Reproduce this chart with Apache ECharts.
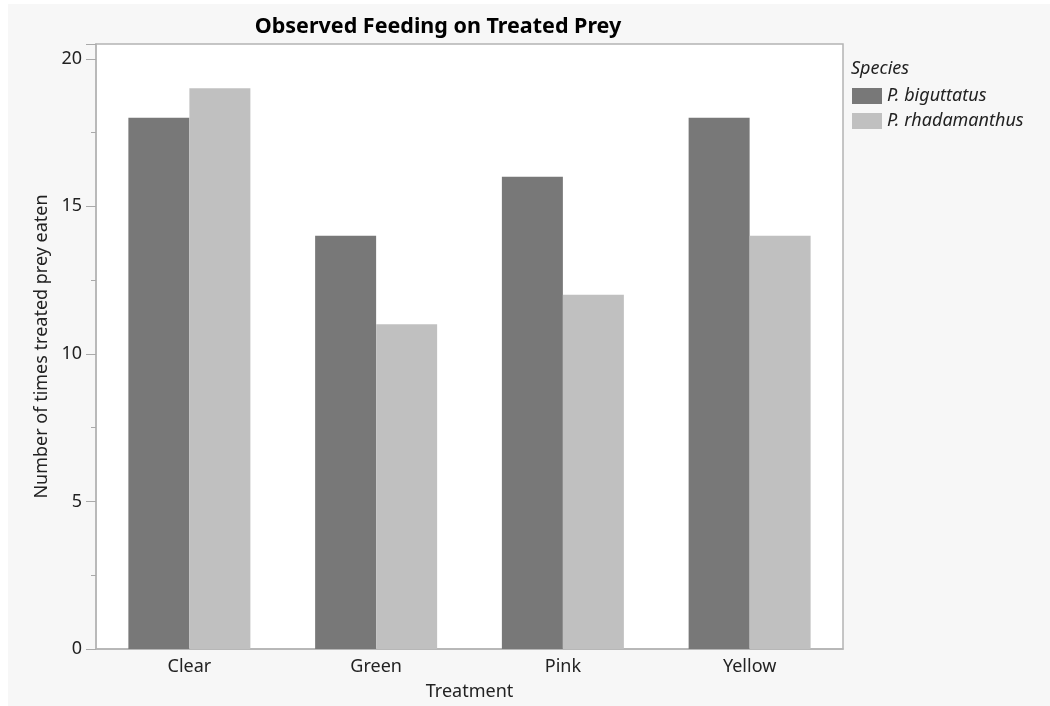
<!DOCTYPE html>
<html><head><meta charset="utf-8">
<script src="https://cdn.jsdelivr.net/npm/echarts@6/dist/echarts.min.js"></script>
<style>
html,body{margin:0;padding:0;background:#fff;}
#wrap{position:absolute;left:8px;top:4px;width:1042px;height:702px;background:#f7f7f7;}
#c{position:absolute;left:-8px;top:-4px;width:1050px;height:706px;}
</style></head>
<body><div id="wrap"><div id="c"></div></div>
<script>
const categories = ['Clear', 'Green', 'Pink', 'Yellow'];
const biguttatus = [18, 14, 16, 18];
const rhadamanthus = [19, 11, 12, 14];
const seriesNames = ['P. biguttatus', 'P. rhadamanthus'];

const font = "'Noto Sans', 'Open Sans', sans-serif";
const chart = echarts.init(document.getElementById('c'));
chart.setOption({
  animation: false,
  textStyle: {fontFamily: font},
  title: [
    {text: 'Observed Feeding on Treated Prey', left: 433, top: 11, textAlign: 'center',
     textStyle: {fontFamily: font, fontSize: 21.5, fontWeight: 'bold', color: '#000'}},
    {text: 'Species', left: 846, top: 55,
     textStyle: {fontFamily: font, fontSize: 18, fontStyle: 'italic', fontWeight: 'normal', color: '#222'}}
  ],
  legend: {
    orient: 'vertical', left: 847, top: 82, itemWidth: 30, itemHeight: 16, itemGap: 7,
    icon: 'rect', data: seriesNames,
    textStyle: {fontFamily: font, fontSize: 18, lineHeight: 16, fontStyle: 'italic', color: '#222'}
  },
  grid: {left: 96, top: 44, right: 207, bottom: 52, show: true, backgroundColor: '#fff',
         borderColor: '#b4b4b4', borderWidth: 1.5, containLabel: false},
  xAxis: {
    type: 'category', data: categories,
    name: 'Treatment', nameLocation: 'middle', nameGap: 34,
    nameTextStyle: {fontFamily: font, fontSize: 18, color: '#222'},
    axisLine: {lineStyle: {color: '#b4b4b4', width: 1.5}},
    axisTick: {show: false},
    axisLabel: {fontFamily: font, fontSize: 18, color: '#222', margin: 9}
  },
  yAxis: {
    type: 'value', min: 0, max: 20.5, interval: 5,
    name: 'Number of times treated prey eaten', nameLocation: 'middle', nameGap: 39,
    nameTextStyle: {fontFamily: font, fontSize: 18, color: '#222'},
    axisLine: {show: true, lineStyle: {color: '#b4b4b4', width: 1.5}},
    axisTick: {show: true, length: 10, lineStyle: {color: '#aaa'}},
    minorTick: {show: true, splitNumber: 2, length: 5, lineStyle: {color: '#aaa'}},
    splitLine: {show: false},
    axisLabel: {fontFamily: font, fontSize: 18, color: '#222', margin: 14, showMaxLabel: false}
  },
  series: [
    {name: seriesNames[0], type: 'bar', data: biguttatus, barWidth: 61, barGap: '0%',
     itemStyle: {color: '#787878'}},
    {name: seriesNames[1], type: 'bar', data: rhadamanthus, barWidth: 61, barGap: '0%',
     itemStyle: {color: '#c0c0c0'}}
  ]
});
</script></body></html>
